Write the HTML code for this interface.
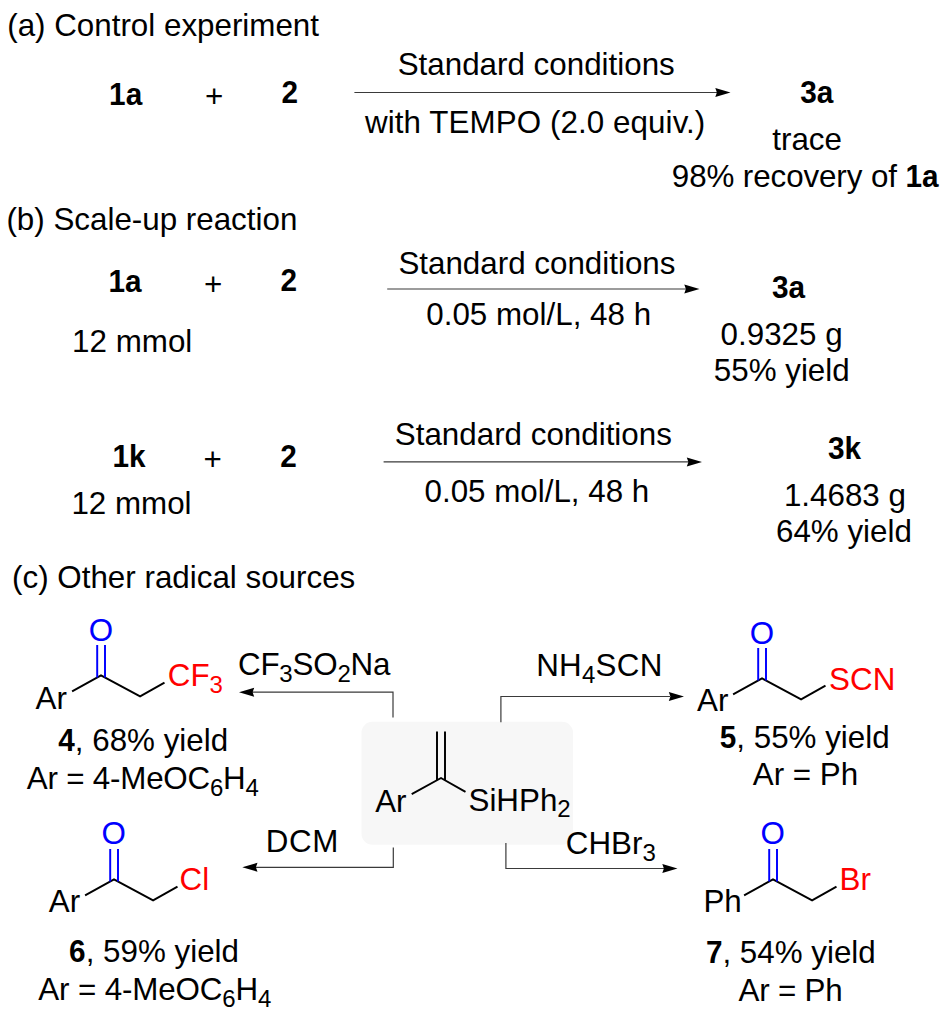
<!DOCTYPE html>
<html><head><meta charset="utf-8"><style>
html,body{margin:0;padding:0;background:#fff;}
svg{display:block;font-family:"Liberation Sans", sans-serif;}
</style></head><body>
<svg width="950" height="1018" viewBox="0 0 950 1018">
<rect x="361.5" y="721.8" width="211.5" height="122.9" rx="11" ry="11" fill="#f7f7f7"/>
<g stroke="#3a3a3a" stroke-width="1.2" fill="none">
<path d="M354.4 92.5H718"/>
<path d="M387.2 289H686"/>
<path d="M383.6 461.9H689"/>
<path d="M393 717.5V692.2H252"/>
<path d="M500.9 722.3V696.5H670"/>
<path d="M393.3 847.4V867.3H255"/>
<path d="M505.9 843.1V868.5H664"/>
</g>
<g fill="#000">
<path d="M730.5 92.5L715.3 88.0L716.9 92.5L715.3 97.0Z"/>
<path d="M699.5 289L684.3 284.5L685.9 289L684.3 293.5Z"/>
<path d="M702 461.9L686.8 457.4L688.4 461.9L686.8 466.4Z"/>
<path d="M239 692.2L254.2 687.7L252.6 692.2L254.2 696.7Z"/>
<path d="M684 696.5L668.8 692.0L670.4 696.5L668.8 701.0Z"/>
<path d="M242.3 867.3L257.5 862.8L255.9 867.3L257.5 871.8Z"/>
<path d="M677.5 868.5L662.3 864.0L663.9 868.5L662.3 873.0Z"/>
</g>
<g>
<path d="M72.1 691.3L101 675.3L140.1 696.3L164.5 682.7" stroke="#000" stroke-width="1.95" fill="none" stroke-linejoin="miter"/>
<path d="M97.2 645V677.4M105 645V677.4" stroke="#0000ff" stroke-width="1.95" fill="none"/>
</g>
<g transform="translate(661 3)">
<path d="M72.1 691.3L101 675.3L140.1 696.3L164.5 682.7" stroke="#000" stroke-width="1.95" fill="none" stroke-linejoin="miter"/>
<path d="M97.2 645V677.4M105 645V677.4" stroke="#0000ff" stroke-width="1.95" fill="none"/>
</g>
<g transform="translate(13 204)">
<path d="M72.1 691.3L101 675.3L140.1 696.3L164.5 682.7" stroke="#000" stroke-width="1.95" fill="none" stroke-linejoin="miter"/>
<path d="M97.2 645V677.4M105 645V677.4" stroke="#0000ff" stroke-width="1.95" fill="none"/>
</g>
<g transform="translate(672 204)">
<path d="M72.1 691.3L101 675.3L140.1 696.3L164.5 682.7" stroke="#000" stroke-width="1.95" fill="none" stroke-linejoin="miter"/>
<path d="M97.2 645V677.4M105 645V677.4" stroke="#0000ff" stroke-width="1.95" fill="none"/>
</g>
<g>
<path d="M411.7 794.1L441 778L465.5 791.8" stroke="#000" stroke-width="1.95" fill="none"/>
<path d="M437 731.6V780.2M445 731.6V780.2" stroke="#000" stroke-width="1.95" fill="none"/>
</g>

<text x="7.2" y="35.6" font-size="31.35" font-weight="400" fill="#000">(a) Control experiment</text>
<text x="109.1" y="104.7" font-size="31.35" font-weight="400" fill="#000"><tspan font-weight="700" font-size="31.0" textLength="33.10" lengthAdjust="spacingAndGlyphs">1a</tspan></text>
<text x="281.5" y="103.1" font-size="31.35" font-weight="400" fill="#000"><tspan font-weight="700" font-size="31.0" textLength="16.55" lengthAdjust="spacingAndGlyphs">2</tspan></text>
<text x="397.7" y="75.2" font-size="31.35" font-weight="400" fill="#000">Standard conditions</text>
<text x="365.0" y="132.6" font-size="31.35" font-weight="400" fill="#000" textLength="340.32">with TEMPO (2.0 equiv.)</text>
<text x="800.3" y="103.0" font-size="31.35" font-weight="400" fill="#000"><tspan font-weight="700" font-size="31.0" textLength="33.10" lengthAdjust="spacingAndGlyphs">3a</tspan></text>
<text x="772.3" y="150.0" font-size="31.35" font-weight="400" fill="#000">trace</text>
<text x="671.8" y="186.6" font-size="31.35" font-weight="400" fill="#000" textLength="266.79">98% recovery of <tspan font-weight="700" font-size="31.0" textLength="33.10" lengthAdjust="spacingAndGlyphs">1a</tspan></text>
<text x="6.4" y="230.4" font-size="31.35" font-weight="400" fill="#000">(b) Scale-up reaction</text>
<text x="108.5" y="291.7" font-size="31.35" font-weight="400" fill="#000"><tspan font-weight="700" font-size="31.0" textLength="33.10" lengthAdjust="spacingAndGlyphs">1a</tspan></text>
<text x="280.6" y="291.0" font-size="31.35" font-weight="400" fill="#000"><tspan font-weight="700" font-size="31.0" textLength="16.55" lengthAdjust="spacingAndGlyphs">2</tspan></text>
<text x="72.1" y="351.6" font-size="31.35" font-weight="400" fill="#000">12 mmol</text>
<text x="398.4" y="274.0" font-size="31.35" font-weight="400" fill="#000">Standard conditions</text>
<text x="426.3" y="325.0" font-size="31.35" font-weight="400" fill="#000">0.05 mol/L, 48 h</text>
<text x="771.9" y="298.4" font-size="31.35" font-weight="400" fill="#000"><tspan font-weight="700" font-size="31.0" textLength="33.10" lengthAdjust="spacingAndGlyphs">3a</tspan></text>
<text x="720.6" y="344.8" font-size="31.35" font-weight="400" fill="#000">0.9325 g</text>
<text x="713.8" y="380.7" font-size="31.35" font-weight="400" fill="#000">55% yield</text>
<text x="112.5" y="466.6" font-size="31.35" font-weight="400" fill="#000"><tspan font-weight="700" font-size="31.0" textLength="33.10" lengthAdjust="spacingAndGlyphs">1k</tspan></text>
<text x="280.2" y="467.3" font-size="31.35" font-weight="400" fill="#000"><tspan font-weight="700" font-size="31.0" textLength="16.55" lengthAdjust="spacingAndGlyphs">2</tspan></text>
<text x="71.4" y="513.7" font-size="31.35" font-weight="400" fill="#000">12 mmol</text>
<text x="394.8" y="444.7" font-size="31.35" font-weight="400" fill="#000">Standard conditions</text>
<text x="424.5" y="502.2" font-size="31.35" font-weight="400" fill="#000">0.05 mol/L, 48 h</text>
<text x="827.9" y="459.2" font-size="31.35" font-weight="400" fill="#000"><tspan font-weight="700" font-size="31.0" textLength="33.10" lengthAdjust="spacingAndGlyphs">3k</tspan></text>
<text x="783.9" y="506.2" font-size="31.35" font-weight="400" fill="#000">1.4683 g</text>
<text x="776.0" y="542.2" font-size="31.35" font-weight="400" fill="#000">64% yield</text>
<text x="12.1" y="588.0" font-size="31.35" font-weight="400" fill="#000">(c) Other radical sources</text>
<text x="238.0" y="674.7" font-size="31.35" font-weight="400" fill="#000" textLength="152.39">CF<tspan font-size="24" dy="6.8">3</tspan><tspan dy="-6.8">SO<tspan font-size="24" dy="6.8">2</tspan><tspan dy="-6.8">Na</tspan></tspan></text>
<text x="536.2" y="676.3" font-size="31.35" font-weight="400" fill="#000" textLength="126.13">NH<tspan font-size="24" dy="6.8">4</tspan><tspan dy="-6.8">SCN</tspan></text>
<text x="265.8" y="851.7" font-size="31.35" font-weight="400" fill="#000" textLength="72.69">DCM</text>
<text x="565.8" y="854.2" font-size="31.35" font-weight="400" fill="#000">CHBr<tspan font-size="24" dy="6.8">3</tspan><tspan dy="-6.8"></tspan></text>
<text x="88.7" y="641.0" font-size="31.35" font-weight="400" fill="#0000ff">O</text>
<text x="35.5" y="709.1" font-size="31.35" font-weight="400" fill="#000">Ar</text>
<text x="167.8" y="686.2" font-size="31.35" font-weight="400" fill="#ff0000">CF<tspan font-size="24" dy="6.8">3</tspan><tspan dy="-6.8"></tspan></text>
<text x="58.3" y="750.6" font-size="31.35" font-weight="400" fill="#000"><tspan font-weight="700" font-size="31.0" textLength="16.55" lengthAdjust="spacingAndGlyphs">4</tspan>, 68% yield</text>
<text x="26.8" y="788.9" font-size="31.35" font-weight="400" fill="#000" textLength="232.06">Ar = 4-MeOC<tspan font-size="24" dy="6.8">6</tspan><tspan dy="-6.8">H<tspan font-size="24" dy="6.8">4</tspan><tspan dy="-6.8"></tspan></tspan></text>
<text x="749.7" y="643.6" font-size="31.35" font-weight="400" fill="#0000ff">O</text>
<text x="697.0" y="711.2" font-size="31.35" font-weight="400" fill="#000">Ar</text>
<text x="829.1" y="689.5" font-size="31.35" font-weight="400" fill="#ff0000">SCN</text>
<text x="719.8" y="747.6" font-size="31.35" font-weight="400" fill="#000"><tspan font-weight="700" font-size="31.0" textLength="16.55" lengthAdjust="spacingAndGlyphs">5</tspan>, 55% yield</text>
<text x="752.8" y="785.3" font-size="31.35" font-weight="400" fill="#000">Ar = Ph</text>
<text x="375.2" y="811.5" font-size="31.35" font-weight="400" fill="#000">Ar</text>
<text x="468.5" y="810.5" font-size="31.35" font-weight="400" fill="#000">SiHPh<tspan font-size="24" dy="6.8">2</tspan><tspan dy="-6.8"></tspan></text>
<text x="101.5" y="843.6" font-size="31.35" font-weight="400" fill="#0000ff">O</text>
<text x="48.8" y="912.0" font-size="31.35" font-weight="400" fill="#000">Ar</text>
<text x="179.5" y="889.9" font-size="31.35" font-weight="400" fill="#ff0000">Cl</text>
<text x="69.1" y="961.5" font-size="31.35" font-weight="400" fill="#000"><tspan font-weight="700" font-size="31.0" textLength="16.55" lengthAdjust="spacingAndGlyphs">6</tspan>, 59% yield</text>
<text x="38.3" y="999.9" font-size="31.35" font-weight="400" fill="#000" textLength="233.06">Ar = 4-MeOC<tspan font-size="24" dy="6.8">6</tspan><tspan dy="-6.8">H<tspan font-size="24" dy="6.8">4</tspan><tspan dy="-6.8"></tspan></tspan></text>
<text x="760.6" y="843.6" font-size="31.35" font-weight="400" fill="#0000ff">O</text>
<text x="703.4" y="911.6" font-size="31.35" font-weight="400" fill="#000">Ph</text>
<text x="839.6" y="889.5" font-size="31.35" font-weight="400" fill="#ff0000">Br</text>
<text x="705.9" y="963.1" font-size="31.35" font-weight="400" fill="#000"><tspan font-weight="700" font-size="31.0" textLength="16.55" lengthAdjust="spacingAndGlyphs">7</tspan>, 54% yield</text>
<text x="738.6" y="1001.0" font-size="31.35" font-weight="400" fill="#000" textLength="104.11">Ar = Ph</text>
<text x="205.0" y="107.3" font-size="31.35">+</text>
<text x="204.0" y="295.0" font-size="31.35">+</text>
<text x="203.5" y="469.6" font-size="31.35">+</text>
</svg>
</body></html>
